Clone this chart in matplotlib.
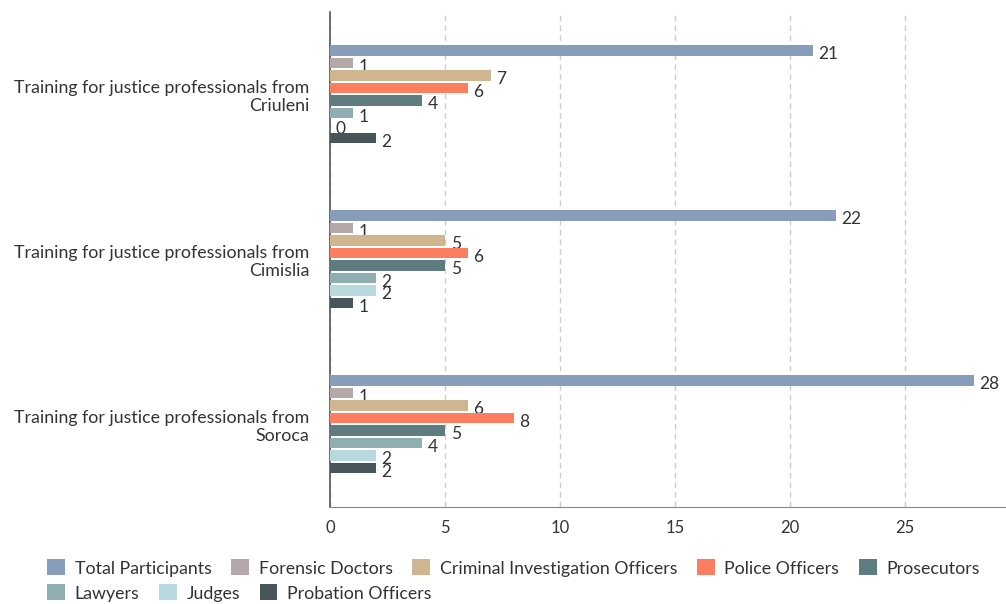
import numpy as np
import matplotlib
matplotlib.use("Agg")
import matplotlib.pyplot as plt
from matplotlib.patches import Patch

plt.rcParams['font.family'] = ['Lato', 'DejaVu Sans']

categories = ["Training for justice professionals from\nCriuleni",
              "Training for justice professionals from\nCimislia",
              "Training for justice professionals from\nSoroca"]
series_names = ["Total Participants", "Forensic Doctors", "Criminal Investigation Officers",
                "Police Officers", "Prosecutors", "Lawyers", "Judges", "Probation Officers"]
total = [21, 22, 28]
forensic = [1, 1, 1]
criminal = [7, 5, 6]
police = [6, 6, 8]
prosecutors = [4, 5, 5]
lawyers = [1, 2, 4]
judges = [0, 2, 2]
probation = [2, 1, 2]
colors = ["#879db9", "#b6a7a9", "#d0b690", "#fb7e60", "#5f7c80",
          "#8faeb2", "#b8dade", "#465659"]

values = [total, forensic, criminal, police, prosecutors, lawyers, judges, probation]
txt = "#333333"

fig = plt.figure(figsize=(10.06, 6.04), dpi=100)
ax = fig.add_axes([330/1006, 97.5/604, 675/1006, 495/604])

slot = 12.5 / 165
y = np.arange(len(categories))
for i, (name, vals, c) in enumerate(zip(series_names, values, colors)):
    pos = y + (i - 3.5) * slot
    ax.barh(pos, vals, height=slot * 0.84, color=c, edgecolor='none', zorder=3)
    for p, v in zip(pos, vals):
        ax.annotate(str(v), (v, p), xytext=(4, -3), textcoords='offset points',
                    va='center', ha='left', fontsize=12.5, color=txt)

ax.set_xlim(0, 29.35)
ax.set_ylim(2.5, -0.5)
ax.set_yticks(y)
ax.set_yticklabels(categories, fontsize=12.8, color=txt, ha='right')
ax.tick_params(axis='y', length=0, pad=15)
ax.set_xticks([0, 5, 10, 15, 20, 25])
ax.tick_params(axis='x', direction='in', length=4, color='#cccccc', labelsize=12,
               labelcolor=txt, pad=10)
ax.grid(axis='x', linestyle=(0, (4, 3)), color='#cccccc', linewidth=1, zorder=0)
for s in ['top', 'right']:
    ax.spines[s].set_visible(False)
ax.spines['left'].set_color('#555555')
ax.spines['left'].set_linewidth(1.2)
ax.spines['bottom'].set_color('#888888')

handles = [Patch(facecolor=c, edgecolor='none') for c in colors]
leg_kw = dict(frameon=False, fontsize=12.8, handlelength=1.0, handleheight=1.0,
              handletextpad=0.55, columnspacing=1.1, borderaxespad=0, labelcolor=txt)
leg1 = fig.legend(handles[:5], series_names[:5], ncol=5, loc='center left',
                  bbox_to_anchor=(40/1006, 1 - 568/604), **leg_kw)
leg2 = fig.legend(handles[5:], series_names[5:], ncol=3, loc='center left',
                  bbox_to_anchor=(40/1006, 1 - 593/604), **leg_kw)

fig.savefig("out.png", dpi=100)
